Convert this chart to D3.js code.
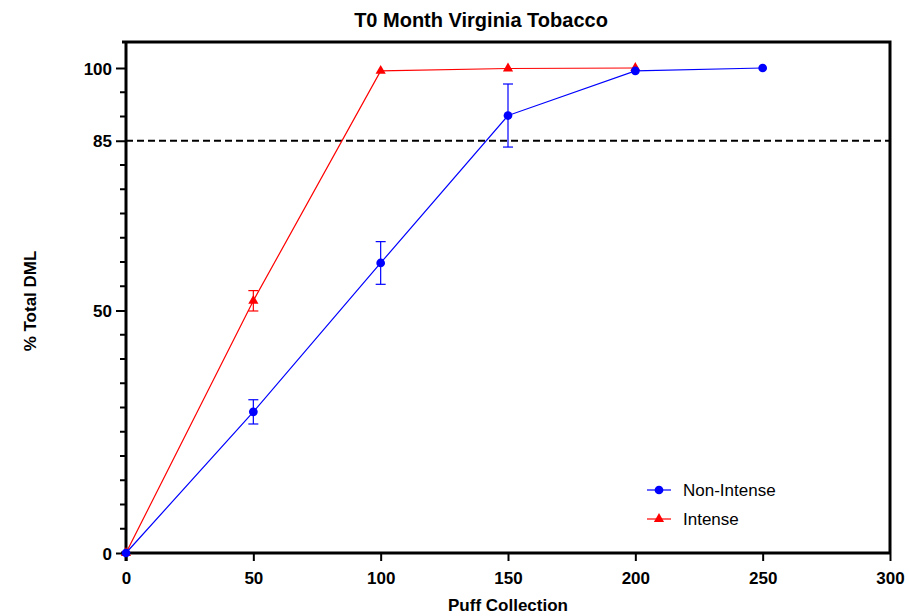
<!DOCTYPE html>
<html>
<head>
<meta charset="utf-8">
<script src="https://cdn.jsdelivr.net/npm/d3@7"></script>
<style>
  body { margin: 0; background: #fff; }
  text { font-family: "Liberation Sans", Arial, sans-serif; }
</style>
</head>
<body>
<svg width="909" height="616"></svg>
<script>
// data
const puffs = [0, 50, 100, 150, 200, 250];
const nonIntense = [0, 29.1, 59.8, 90.2, 99.4, 100];
const nonIntenseErr = [0, 2.5, 4.4, 6.5, 0, 0];
const intensePuffs = [0, 50, 100, 150, 200];
const intense = [0, 52.0, 99.4, 99.9, 100];
const intenseErr = [0, 2.1, 0, 0, 0];
const xTicks = [0, 50, 100, 150, 200, 250, 300];
const yMajor = [0, 50, 85, 100];
const threshold = 85;

let svg = d3.select("svg");

let x = d3.scaleLinear().domain([0, 300]).range([126, 890]);
let y = d3.scaleLinear().domain([0, 100]).range([553, 68]);
let yTop = y.invert(42);

// title
svg.append("text")
  .attr("x", 481).attr("y", 27)
  .attr("text-anchor", "middle")
  .style("font-size", "20px").style("font-weight", "bold")
  .text("T0 Month Virginia Tobacco");

// frame top and right
svg.append("path")
  .attr("d", `M${x(0) - 4},${y(yTop)} H${x(300)} V${y(0)}`)
  .attr("fill", "none").attr("stroke", "black").attr("stroke-width", 3);

// x axis
let xAxis = svg.append("g")
  .attr("transform", `translate(0,${y(0)})`)
  .call(d3.axisBottom(x).tickValues(xTicks).tickSize(8).tickSizeOuter(0));
xAxis.select(".domain").attr("stroke-width", 3)
  .attr("d", `M${x(0) - 5},0H${x(300)}`);
xAxis.selectAll(".tick line").attr("stroke-width", 2);
xAxis.selectAll(".tick text")
  .attr("y", 31).attr("dy", null)
  .style("font-size", "17px").style("font-weight", "bold").style("font-family", "Liberation Sans, Arial, sans-serif");

// y axis - minor ticks every 5
let minor = d3.range(0, 101, 5).filter(v => !yMajor.includes(v));
let yAxis = svg.append("g")
  .attr("transform", `translate(${x(0)},0)`)
  .call(d3.axisLeft(y).tickValues(yMajor).tickSize(10).tickSizeOuter(0));
yAxis.select(".domain").attr("stroke-width", 3)
  .attr("d", `M0,${y(0) + 8}V${y(yTop)}`);
yAxis.selectAll(".tick line").attr("stroke-width", 2);
yAxis.selectAll(".tick text")
  .attr("x", -14).attr("dy", "0.36em")
  .style("font-size", "17px").style("font-weight", "bold").style("font-family", "Liberation Sans, Arial, sans-serif");

svg.append("g").selectAll("line")
  .data(minor)
  .enter()
  .append("line")
  .attr("x1", x(0) - 6).attr("x2", x(0))
  .attr("y1", d => y(d)).attr("y2", d => y(d))
  .attr("stroke", "black").attr("stroke-width", 2);

// axis titles
svg.append("text")
  .attr("x", 508).attr("y", 611)
  .attr("text-anchor", "middle")
  .style("font-size", "17px").style("font-weight", "bold")
  .text("Puff Collection");

svg.append("text")
  .attr("transform", `translate(36,301) rotate(-90)`)
  .attr("text-anchor", "middle")
  .style("font-size", "17px").style("font-weight", "bold")
  .text("% Total DML");

// 85% threshold line
svg.append("line")
  .attr("x1", x(0)).attr("x2", x(300))
  .attr("y1", y(threshold)).attr("y2", y(threshold))
  .attr("stroke", "black").attr("stroke-width", 2)
  .attr("stroke-dasharray", "7,4");

let line = d3.line().x(d => x(d[0])).y(d => y(d[1]));

function drawSeries(xs, vals, errs, color, shape) {
  let pts = xs.map((d, i) => [d, vals[i], errs[i]]);
  let g = svg.append("g");

  g.append("path")
    .datum(pts)
    .attr("d", line)
    .attr("fill", "none").attr("stroke", color).attr("stroke-width", 1.2);

  // error bars
  let eb = g.selectAll(".eb").data(pts.filter(d => d[2] > 0)).enter().append("g");
  eb.append("line")
    .attr("x1", d => x(d[0])).attr("x2", d => x(d[0]))
    .attr("y1", d => y(d[1] + d[2])).attr("y2", d => y(d[1] - d[2]))
    .attr("stroke", color).attr("stroke-width", 1.2);
  [1, -1].forEach(s => {
    eb.append("line")
      .attr("x1", d => x(d[0]) - 5).attr("x2", d => x(d[0]) + 5)
      .attr("y1", d => y(d[1] + s * d[2])).attr("y2", d => y(d[1] + s * d[2]))
      .attr("stroke", color).attr("stroke-width", 1.2);
  });

  g.selectAll(".pt").data(pts).enter()
    .append("path")
    .attr("transform", d => `translate(${x(d[0])},${y(d[1])})`)
    .attr("d", d3.symbol().type(shape).size(shape === d3.symbolCircle ? 60 : 45))
    .attr("fill", color);
}

drawSeries(intensePuffs, intense, intenseErr, "#ff0000", d3.symbolTriangle);
drawSeries(puffs, nonIntense, nonIntenseErr, "#0000ff", d3.symbolCircle);

// legend
let legend = [
  {name: "Non-Intense", color: "#0000ff", shape: d3.symbolCircle, y: 490},
  {name: "Intense", color: "#ff0000", shape: d3.symbolTriangle, y: 519}
];
legend.forEach(l => {
  svg.append("line")
    .attr("x1", 647).attr("x2", 671)
    .attr("y1", l.y).attr("y2", l.y)
    .attr("stroke", l.color).attr("stroke-width", 1.2);
  svg.append("path")
    .attr("transform", `translate(659,${l.y})`)
    .attr("d", d3.symbol().type(l.shape).size(l.shape === d3.symbolCircle ? 60 : 45))
    .attr("fill", l.color);
  svg.append("text")
    .attr("x", 683).attr("y", l.y + 6)
    .style("font-size", "17px")
    .text(l.name);
});
</script>
</body>
</html>
